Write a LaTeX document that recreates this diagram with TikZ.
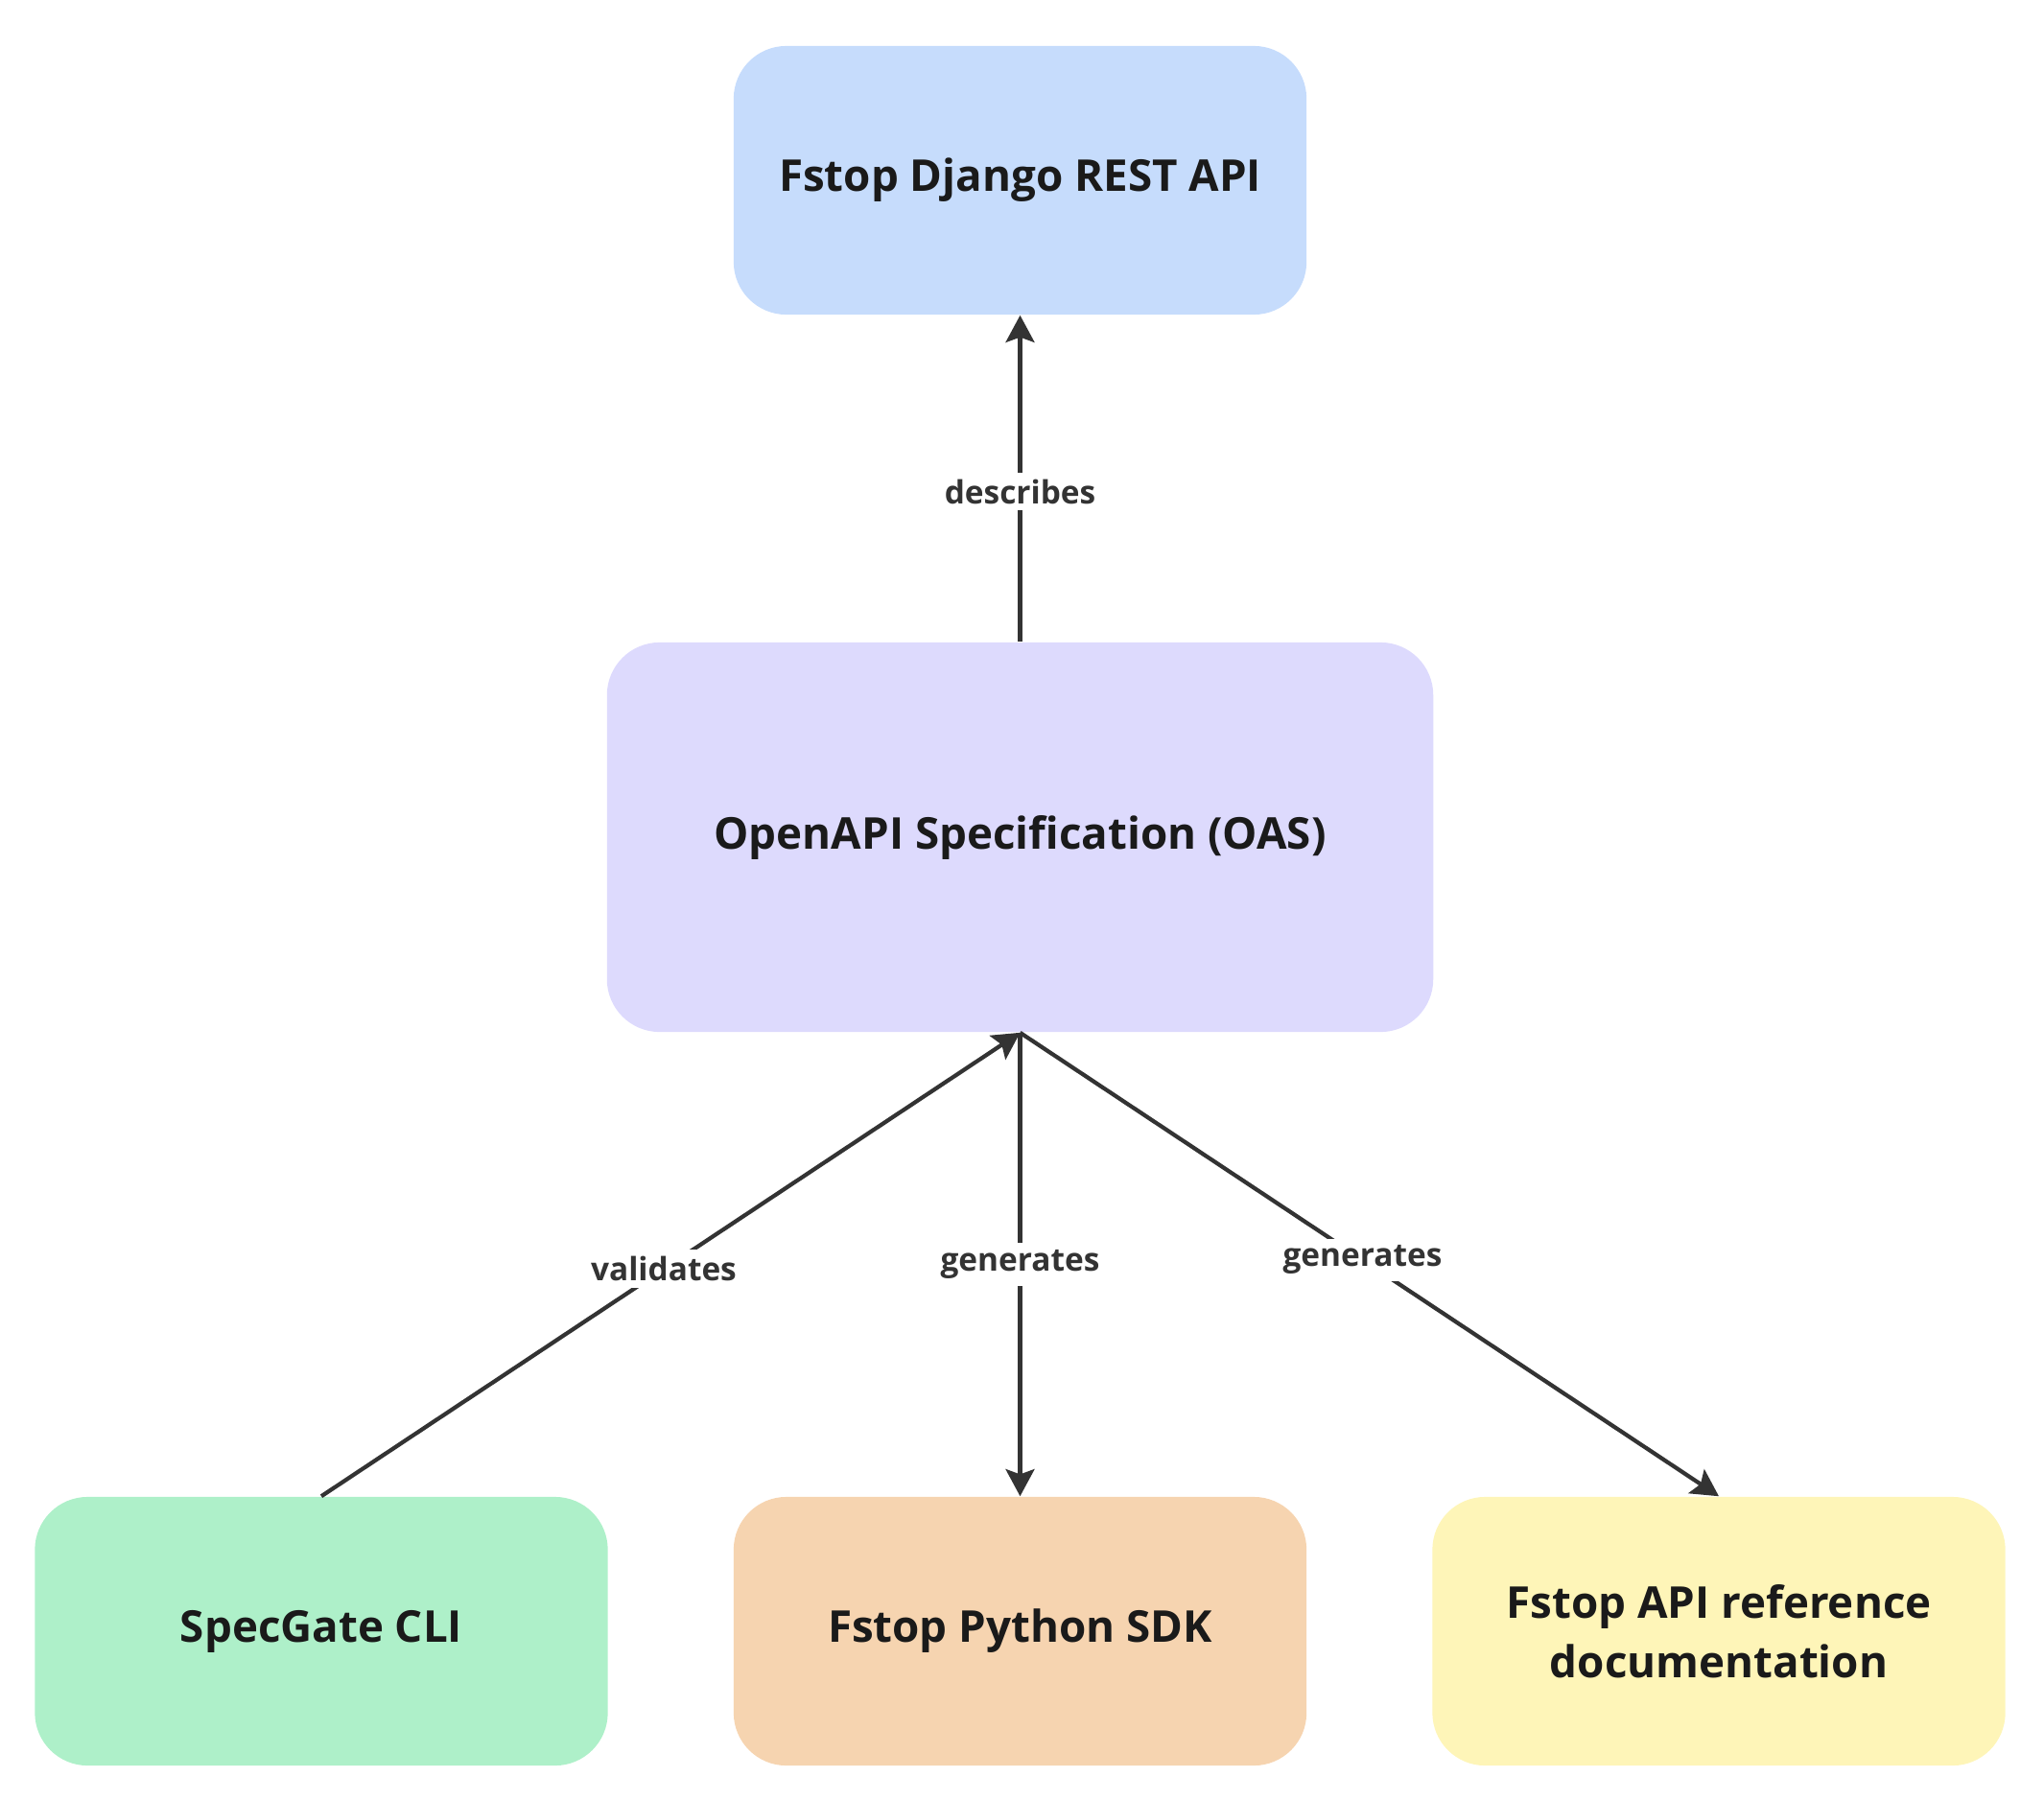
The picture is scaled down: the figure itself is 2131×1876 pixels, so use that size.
\documentclass[tikz,border=0pt]{standalone}
\usepackage{fontspec}
\setmainfont{Open Sans}
\usetikzlibrary{arrows.meta}
\definecolor{edgec}{HTML}{333333}
\definecolor{txtc}{HTML}{1A1A1A}
\definecolor{cblue}{HTML}{C6DCFC}
\definecolor{cpurple}{HTML}{DDDAFD}
\definecolor{cgreen}{HTML}{AEF0C9}
\definecolor{corange}{HTML}{F6D4B0}
\definecolor{cyellow}{HTML}{FEF5B8}
\tikzset{
  box/.style={rectangle, rounded corners=0.55cm, draw=none, text=txtc,
    font=\fontsize{13}{17.6}\selectfont\bfseries, align=center, inner sep=0pt},
  smallbox/.style={box, minimum width=5.97cm, minimum height=2.8cm},
  conn/.style={draw=edgec, line width=1.2pt, -{Stealth[length=8pt,width=8.5pt,inset=1.5pt]}},
  elabel/.style={fill=white, text=edgec, font=\fontsize{9.5}{11}\selectfont\bfseries, inner sep=2pt}
}
\begin{document}
\begin{tikzpicture}[x=0.01cm,y=-0.01cm]
\useasboundingbox (0,0) rectangle (2131,1876);
\node[smallbox, fill=cblue] (api) at (1063.5,188) {\raisebox{-0.05cm}{Fstop Django REST API}};
\node[box, fill=cpurple, minimum width=8.61cm, minimum height=4.06cm] (oas) at (1063.5,873) {\raisebox{-0.05cm}{OpenAPI Specification (OAS)}};
\node[smallbox, fill=cgreen] (spec) at (335,1701) {\raisebox{-0.05cm}{SpecGate CLI}};
\node[smallbox, fill=corange] (sdk) at (1063.5,1701) {\raisebox{-0.05cm}{Fstop Python SDK}};
\node[smallbox, fill=cyellow] (docs) at (1792,1701) {Fstop API reference\\documentation};
\draw[conn] (oas.north) -- node[elabel, pos=0.46] {describes} (api.south);
\draw[conn] (spec.north) -- node[elabel, pos=0.49] {validates} (oas.south);
\draw[conn] (oas.south) -- node[elabel, pos=0.5] {generates} (sdk.north);
\draw[conn] (oas.south) -- node[elabel, pos=0.49] {generates} (docs.north);
\end{tikzpicture}
\end{document}
